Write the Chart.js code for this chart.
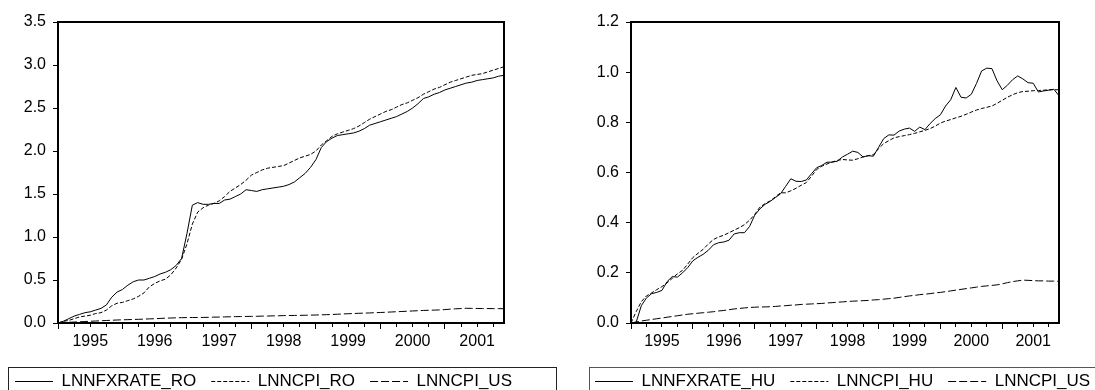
<!DOCTYPE html>
<html>
<head>
<meta charset="utf-8">
<script src="https://cdn.jsdelivr.net/npm/chart.js@4.4.1/dist/chart.umd.min.js"></script>
<style>
  html, body { margin: 0; padding: 0; background: #fff; overflow: hidden; }
  #wrap { position: relative; width: 1095px; height: 390px; overflow: hidden; }
  canvas { position: absolute; top: 0; }
  #chart-ro { left: 0; }
  #chart-hu { left: 580px; }
</style>
</head>
<body>
<div id="wrap">
  <canvas id="chart-ro" width="560" height="401"></canvas>
  <canvas id="chart-hu" width="540" height="401"></canvas>
</div>
<script>
// monthly data, 1995M01 .. 2001M12
const years = ['1995', '1996', '1997', '1998', '1999', '2000', '2001'];

const lnnfxrateRo = [
  0.00, 0.02, 0.05, 0.08, 0.10, 0.12, 0.13, 0.15, 0.17, 0.21, 0.30, 0.36,
  0.39, 0.44, 0.48, 0.50, 0.50, 0.52, 0.54, 0.57, 0.59, 0.62, 0.67, 0.75,
  1.04, 1.37, 1.40, 1.38, 1.38, 1.39, 1.39, 1.43, 1.44, 1.47, 1.50, 1.55,
  1.54, 1.53, 1.55, 1.56, 1.57, 1.58, 1.59, 1.61, 1.64, 1.69, 1.74, 1.81,
  1.90, 2.04, 2.11, 2.15, 2.18, 2.19, 2.20, 2.21, 2.23, 2.26, 2.30, 2.32,
  2.34, 2.36, 2.38, 2.40, 2.43, 2.46, 2.50, 2.55, 2.61, 2.63, 2.66, 2.68,
  2.71, 2.73, 2.75, 2.77, 2.79, 2.80, 2.82, 2.83, 2.84, 2.85, 2.87, 2.88
];
const lnncpiRo = [
  0.00, 0.02, 0.03, 0.05, 0.07, 0.08, 0.09, 0.11, 0.12, 0.15, 0.20, 0.23,
  0.24, 0.26, 0.28, 0.31, 0.35, 0.42, 0.46, 0.49, 0.51, 0.56, 0.64, 0.74,
  0.92, 1.15, 1.29, 1.34, 1.37, 1.39, 1.42, 1.47, 1.53, 1.57, 1.61, 1.66,
  1.72, 1.75, 1.78, 1.80, 1.81, 1.82, 1.83, 1.86, 1.89, 1.92, 1.94, 1.96,
  2.00, 2.07, 2.12, 2.17, 2.20, 2.22, 2.24, 2.26, 2.29, 2.33, 2.37, 2.40,
  2.43, 2.46, 2.48, 2.51, 2.54, 2.56, 2.59, 2.62, 2.66, 2.69, 2.72, 2.74,
  2.77, 2.80, 2.82, 2.84, 2.86, 2.88, 2.89, 2.90, 2.92, 2.94, 2.96, 2.98
];
const lnncpiUs = [
  0.000, 0.004, 0.008, 0.011, 0.014, 0.017, 0.020, 0.023, 0.026, 0.029, 0.032, 0.035,
  0.037, 0.039, 0.041, 0.043, 0.045, 0.048, 0.050, 0.053, 0.056, 0.058, 0.060, 0.062,
  0.063, 0.064, 0.064, 0.065, 0.066, 0.068, 0.069, 0.071, 0.072, 0.074, 0.075, 0.076,
  0.077, 0.078, 0.080, 0.081, 0.083, 0.084, 0.086, 0.087, 0.088, 0.089, 0.090, 0.092,
  0.093, 0.095, 0.097, 0.099, 0.102, 0.105, 0.108, 0.110, 0.113, 0.115, 0.117, 0.120,
  0.122, 0.125, 0.128, 0.131, 0.134, 0.137, 0.140, 0.143, 0.146, 0.148, 0.150, 0.152,
  0.156, 0.161, 0.165, 0.168, 0.171, 0.170, 0.169, 0.168, 0.168, 0.167, 0.167, 0.166
];
const lnnfxrateHu = [
  0.000, 0.003, 0.069, 0.100, 0.117, 0.122, 0.130, 0.165, 0.185, 0.183, 0.200, 0.221,
  0.248, 0.262, 0.274, 0.290, 0.312, 0.320, 0.323, 0.330, 0.355, 0.360, 0.360, 0.385,
  0.430, 0.455, 0.473, 0.485, 0.500, 0.515, 0.545, 0.575, 0.565, 0.564, 0.570, 0.595,
  0.619, 0.628, 0.641, 0.641, 0.645, 0.662, 0.673, 0.685, 0.680, 0.662, 0.667, 0.665,
  0.700, 0.735, 0.750, 0.749, 0.765, 0.773, 0.777, 0.764, 0.781, 0.771, 0.795, 0.815,
  0.830, 0.865, 0.890, 0.939, 0.900, 0.897, 0.912, 0.955, 1.005, 1.016, 1.014, 0.965,
  0.930, 0.948, 0.970, 0.985, 0.973, 0.958, 0.956, 0.921, 0.925, 0.928, 0.932, 0.906
];
const lnncpiHu = [
  0.000, 0.045, 0.085, 0.108, 0.120, 0.133, 0.145, 0.160, 0.178, 0.196, 0.210, 0.235,
  0.261, 0.278, 0.294, 0.315, 0.333, 0.343, 0.350, 0.360, 0.370, 0.380, 0.392, 0.410,
  0.433, 0.462, 0.476, 0.487, 0.503, 0.519, 0.519, 0.527, 0.537, 0.549, 0.560, 0.585,
  0.612, 0.625, 0.634, 0.642, 0.648, 0.652, 0.650, 0.649, 0.655, 0.662, 0.667, 0.671,
  0.695, 0.715, 0.727, 0.738, 0.743, 0.747, 0.751, 0.756, 0.762, 0.768, 0.775, 0.785,
  0.797, 0.805, 0.811, 0.818, 0.824, 0.832, 0.841, 0.849, 0.855, 0.860, 0.865, 0.876,
  0.888, 0.900, 0.910, 0.918, 0.923, 0.924, 0.926, 0.927, 0.928, 0.930, 0.930, 0.930
];

// 1995M01, 1995M02, ...
const months = [];
years.forEach(y => {
  for (let m = 1; m <= 12; m++) months.push(y + 'M' + String(m).padStart(2, '0'));
});

Chart.defaults.font.family = '"Liberation Sans", Arial, sans-serif';
Chart.defaults.font.size = 16;
Chart.defaults.color = '#000';

// box round the plot and box round the legend
const frames = {
  id: 'frames',
  afterDraw(chart, args, opts) {
    const ctx = chart.ctx;
    const a = chart.chartArea;
    ctx.save();
    ctx.strokeStyle = '#000';
    ctx.lineWidth = 2;
    ctx.strokeRect(a.left, a.top, a.right - a.left, a.bottom - a.top);
    ctx.strokeStyle = opts.color;
    ctx.lineWidth = 1;
    ctx.strokeRect(opts.x, opts.y, opts.w, opts.h);
    ctx.restore();
  }
};

function lineSet(label, data, dash) {
  return {
    label: label,
    data: data,
    borderColor: '#000',
    backgroundColor: '#000',
    borderWidth: 1,
    borderDash: dash,
    pointRadius: 0,
    tension: 0,
    fill: false
  };
}

function makeChart(id, fx, cpi, fxName, cpiName, yMax, yStep, leftW, rightW, frame) {
  // empty axes on top and right, only to leave room round the plot
  const spacer = {
    display: true,
    grid: { display: false },
    ticks: { display: false },
    border: { display: false }
  };

  return new Chart(document.getElementById(id), {
    type: 'line',
    data: {
      labels: months,
      datasets: [
        lineSet(fxName, fx, []),
        lineSet(cpiName, cpi, [4, 2]),
        lineSet('LNNCPI_US', lnncpiUs, [8, 3])
      ]
    },
    options: {
      responsive: false,
      animation: false,
      events: [],
      layout: { padding: { left: 0, right: 0, top: 0, bottom: 1 } },
      scales: {
        x: {
          type: 'category',
          position: 'bottom',
          afterBuildTicks: s => { s.ticks = s.ticks.filter(t => t.value % 3 === 0); },
          afterFit: s => { s.height = 35; },
          ticks: {
            autoSkip: false,
            maxRotation: 0,
            minRotation: 0,
            padding: 3,
            callback: v => (v % 12 === 6 ? years[(v - 6) / 12] : '')
          },
          grid: {
            drawOnChartArea: false,
            tickLength: 6,
            tickColor: '#000',
            tickWidth: 1,
            tickBorderDash: c => (c.tick && c.tick.value % 12 === 0 ? [] : [3, 20])
          },
          border: { color: '#000', width: 2 }
        },
        y: {
          position: 'left',
          min: 0,
          max: yMax,
          afterFit: s => { s.width = leftW; },
          ticks: { stepSize: yStep, padding: 7, callback: v => v.toFixed(1) },
          grid: { drawOnChartArea: false, tickLength: 5, tickColor: '#000' },
          border: { color: '#000', width: 2 }
        },
        xTop: Object.assign({ type: 'linear', axis: 'x', position: 'top', min: 0, max: 1,
          afterFit: s => { s.height = 22; } }, spacer),
        yRight: Object.assign({ type: 'linear', axis: 'y', position: 'right', min: 0, max: 1,
          afterFit: s => { s.width = rightW; } }, spacer)
      },
      plugins: {
        tooltip: { enabled: false },
        legend: {
          position: 'bottom',
          align: 'start',
          labels: {
            usePointStyle: true,
            pointStyle: 'line',
            pointStyleWidth: 38,
            padding: 15,
            color: '#000',
            font: { size: 17 },
            generateLabels: chart => {
              const items = Chart.defaults.plugins.legend.labels.generateLabels(chart);
              items.forEach(item => {
                const ds = chart.data.datasets[item.datasetIndex];
                item.lineDash = ds.borderDash;
                item.lineWidth = 1;
                item.strokeStyle = '#000';
              });
              return items;
            }
          }
        },
        frames: frame
      }
    },
    plugins: [frames]
  });
}

makeChart('chart-ro', lnnfxrateRo, lnncpiRo, 'LNNFXRATE_RO', 'LNNCPI_RO',
  3.5, 0.5, 58, 56, { x: 8.5, y: 367.5, w: 548, h: 40, color: '#222' });
makeChart('chart-hu', lnnfxrateHu, lnncpiHu, 'LNNFXRATE_HU', 'LNNCPI_HU',
  1.2, 0.2, 51, 61, { x: 9.5, y: 367.5, w: 600, h: 40, color: '#555' });
</script>
</body>
</html>
